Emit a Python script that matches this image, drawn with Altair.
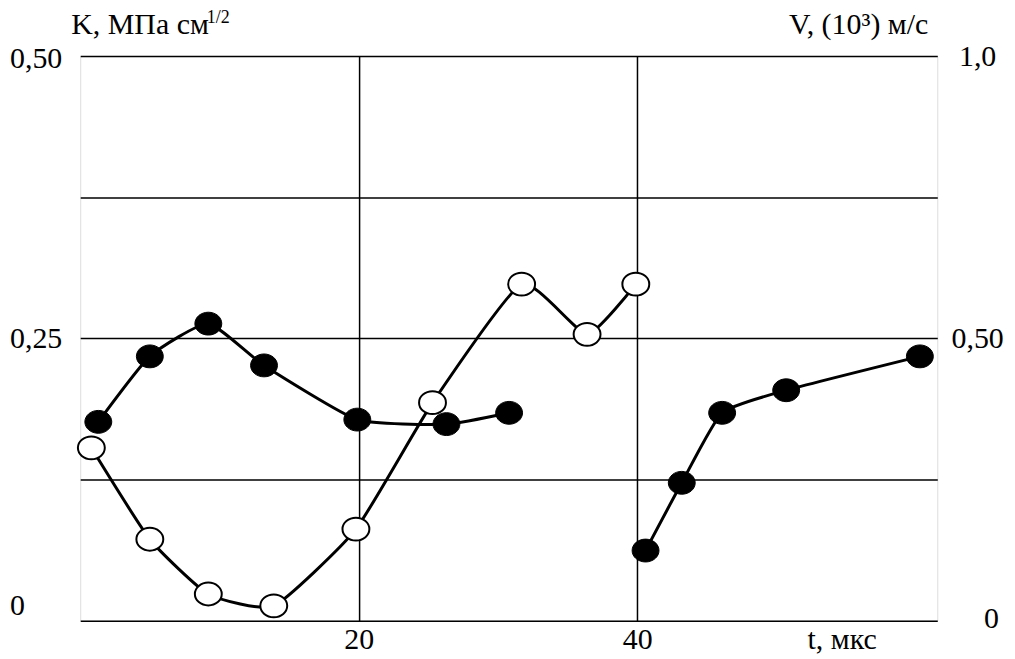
import altair as alt
import pandas as pd

# Filled circles (K, left axis) - two separate runs
k_t_run1 = [1.3, 5.0, 9.2, 13.2, 19.9, 26.3, 30.8]
k_val_run1 = [0.176, 0.234, 0.263, 0.226, 0.178, 0.174, 0.184]
k_t_run2 = [40.6, 43.2, 46.1, 50.7, 60.3]
k_val_run2 = [0.062, 0.122, 0.184, 0.204, 0.234]

# Open circles (V, right axis)
v_t = [0.8, 5.0, 9.2, 13.9, 19.8, 25.3, 31.7, 36.4, 39.9]
v_val = [0.306, 0.144, 0.047, 0.026, 0.162, 0.386, 0.596, 0.507, 0.596]

x_ticks = [20, 40]
k_grid = [0, 0.125, 0.25, 0.375, 0.5]
v_ticks = [0, 0.5, 1.0]

k_df = pd.DataFrame({
    "t": k_t_run1 + k_t_run2,
    "K": k_val_run1 + k_val_run2,
    "run": ["a"] * len(k_t_run1) + ["b"] * len(k_t_run2),
})
v_df = pd.DataFrame({"t": v_t, "V": v_val})
one = pd.DataFrame({"a": [0]})

FONT = "Liberation Serif"
FS = 30
W, H = 860.5, 566.7
x_scale = alt.Scale(domain=[0, 61.55], nice=False, zero=False)
k_scale = alt.Scale(domain=[0, 0.5], nice=False)
v_scale = alt.Scale(domain=[0, 1.0], nice=False)
ELLIPSE = "M-1,0A1,0.85,0,1,1,1,0A1,0.85,0,1,1,-1,0Z"

x_axis = alt.Axis(
    values=x_ticks, grid=True, gridColor="black", gridWidth=1.5,
    domain=False, ticks=False, tickSize=0,
    labelFont=FONT, labelFontSize=FS, labelColor="black", labelPadding=28,
    labelBaseline="alphabetic", labelFlush=False, labelOverlap=False,
    title="t, мкс", titleFont=FONT, titleFontSize=FS, titleFontWeight="normal",
    titleColor="black", titleX=764.5, titleY=28, titleAlign="center",
    titleBaseline="alphabetic", titleAngle=0,
)
k_axis = alt.Axis(
    values=k_grid, grid=True, gridColor="black", gridWidth=1.5,
    domain=False, ticks=False, tickSize=0,
    labelExpr="datum.value == 0 ? '0' : datum.value == 0.25 ? '0,25' : datum.value == 0.5 ? '0,50' : ''",
    labelFont=FONT, labelFontSize=FS, labelColor="black", labelAlign="left",
    labelBaseline="middle", labelPadding=71,
    labelOffset={"condition": [{"test": "datum.value == 0", "value": -15},
                               {"test": "datum.value == 0.5", "value": 2}], "value": 0},
    labelOverlap=False, labelFlush=False,
)
v_axis = alt.Axis(
    orient="right", values=v_ticks, grid=False,
    domain=False, ticks=False, tickSize=0,
    labelExpr="datum.value == 0 ? '0' : datum.value == 0.5 ? '0,50' : '1,0'",
    labelFont=FONT, labelFontSize=FS, labelColor="black", labelAlign="center",
    labelBaseline="middle",
    labelPadding={"condition": {"test": "datum.value == 0", "value": 54}, "value": 40},
    labelOffset={"condition": {"test": "datum.value == 0", "value": -2}, "value": 0},
    labelOverlap=False, labelFlush=False,
)

xk = alt.X("t:Q", scale=x_scale, axis=x_axis)
base_k = alt.Chart(k_df).encode(x=xk, y=alt.Y("K:Q", scale=k_scale, axis=k_axis, title=None))
k_line = base_k.mark_line(color="black", strokeWidth=3, interpolate="cardinal",
                          tension=0.5).encode(detail="run:N")
k_pts = base_k.mark_point(shape=ELLIPSE, size=729, filled=True, color="black",
                          stroke="black", strokeWidth=1, opacity=1)

t_left = alt.Chart(one).mark_text(text="K, МПа см", font=FONT, fontSize=FS, color="black",
                                  align="left", baseline="alphabetic").encode(
    x=alt.value(-9), y=alt.value(-22))
t_left_sup = alt.Chart(one).mark_text(text="1/2", font=FONT, fontSize=18, color="black",
                                      align="left", baseline="alphabetic").encode(
    x=alt.value(127), y=alt.value(-33))
t_right = alt.Chart(one).mark_text(text="V, (10³) м/с", font=FONT, fontSize=FS, color="black",
                                   align="center", baseline="alphabetic").encode(
    x=alt.value(781.5), y=alt.value(-22))

base_v = alt.Chart(v_df).encode(x=alt.X("t:Q", scale=x_scale, axis=x_axis),
                                y=alt.Y("V:Q", scale=v_scale, axis=v_axis, title=None))
v_line = base_v.mark_line(color="black", strokeWidth=3, interpolate="cardinal", tension=0.5)
v_pts = base_v.mark_point(shape=ELLIPSE, size=729, filled=True, fill="white",
                          stroke="black", strokeWidth=2, opacity=1)

left = alt.layer(k_line, k_pts, t_left, t_left_sup, t_right)
right = alt.layer(v_line, v_pts)

chart = alt.layer(left, right).resolve_scale(y="independent").properties(
    width=W, height=H,
    autosize=alt.AutoSizeParams(type="none"),
    padding={"left": 72.5, "top": 47, "right": 70, "bottom": 33},
    background="white",
).configure_view(stroke="black", strokeWidth=2).configure(font=FONT)

chart.save("out.html", embed_options={"renderer": "svg", "actions": False})
